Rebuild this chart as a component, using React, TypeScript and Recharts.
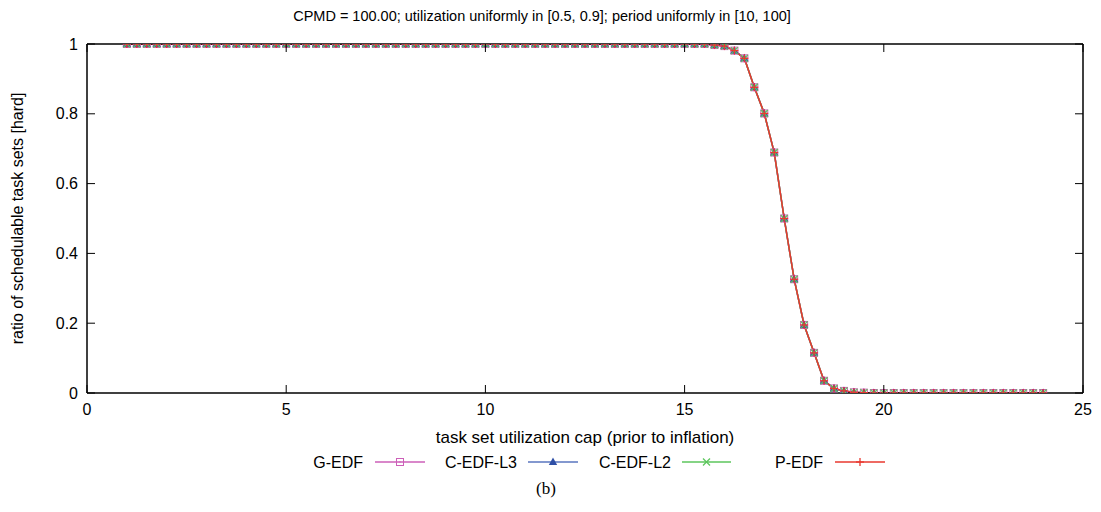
import { LineChart, Line, XAxis, YAxis } from "recharts"

// task set utilization cap, one sample every 0.25
const utilCap = [
  1, 1.25, 1.5, 1.75, 2, 2.25, 2.5, 2.75, 3, 3.25,
  3.5, 3.75, 4, 4.25, 4.5, 4.75, 5, 5.25, 5.5, 5.75,
  6, 6.25, 6.5, 6.75, 7, 7.25, 7.5, 7.75, 8, 8.25,
  8.5, 8.75, 9, 9.25, 9.5, 9.75, 10, 10.25, 10.5, 10.75,
  11, 11.25, 11.5, 11.75, 12, 12.25, 12.5, 12.75, 13, 13.25,
  13.5, 13.75, 14, 14.25, 14.5, 14.75, 15, 15.25, 15.5, 15.75,
  16, 16.25, 16.5, 16.75, 17, 17.25, 17.5, 17.75, 18, 18.25,
  18.5, 18.75, 19, 19.25, 19.5, 19.75, 20, 20.25, 20.5, 20.75,
  21, 21.25, 21.5, 21.75, 22, 22.25, 22.5, 22.75, 23, 23.25,
  23.5, 23.75, 24,
]

const gEdf = [
  1, 1, 1, 1, 1, 1, 1, 1, 1, 1,
  1, 1, 1, 1, 1, 1, 1, 1, 1, 1,
  1, 1, 1, 1, 1, 1, 1, 1, 1, 1,
  1, 1, 1, 1, 1, 1, 1, 1, 1, 1,
  1, 1, 1, 1, 1, 1, 1, 1, 1, 1,
  1, 1, 1, 1, 1, 1, 1, 1, 1, 0.997,
  0.994, 0.981, 0.959, 0.876, 0.801, 0.689, 0.5, 0.326, 0.195, 0.115,
  0.035, 0.013, 0.006, 0.002, 0.001, 0, 0, 0, 0, 0,
  0, 0, 0, 0, 0, 0, 0, 0, 0, 0,
  0, 0, 0,
]

const cEdfL3 = [
  1, 1, 1, 1, 1, 1, 1, 1, 1, 1,
  1, 1, 1, 1, 1, 1, 1, 1, 1, 1,
  1, 1, 1, 1, 1, 1, 1, 1, 1, 1,
  1, 1, 1, 1, 1, 1, 1, 1, 1, 1,
  1, 1, 1, 1, 1, 1, 1, 1, 1, 1,
  1, 1, 1, 1, 1, 1, 1, 1, 1, 0.997,
  0.994, 0.981, 0.959, 0.876, 0.801, 0.689, 0.5, 0.326, 0.195, 0.115,
  0.035, 0.013, 0.006, 0.002, 0.001, 0, 0, 0, 0, 0,
  0, 0, 0, 0, 0, 0, 0, 0, 0, 0,
  0, 0, 0,
]

const cEdfL2 = [
  1, 1, 1, 1, 1, 1, 1, 1, 1, 1,
  1, 1, 1, 1, 1, 1, 1, 1, 1, 1,
  1, 1, 1, 1, 1, 1, 1, 1, 1, 1,
  1, 1, 1, 1, 1, 1, 1, 1, 1, 1,
  1, 1, 1, 1, 1, 1, 1, 1, 1, 1,
  1, 1, 1, 1, 1, 1, 1, 1, 1, 0.997,
  0.994, 0.981, 0.959, 0.876, 0.801, 0.689, 0.5, 0.326, 0.195, 0.115,
  0.035, 0.013, 0.006, 0.002, 0.001, 0, 0, 0, 0, 0,
  0, 0, 0, 0, 0, 0, 0, 0, 0, 0,
  0, 0, 0,
]

const pEdf = [
  1, 1, 1, 1, 1, 1, 1, 1, 1, 1,
  1, 1, 1, 1, 1, 1, 1, 1, 1, 1,
  1, 1, 1, 1, 1, 1, 1, 1, 1, 1,
  1, 1, 1, 1, 1, 1, 1, 1, 1, 1,
  1, 1, 1, 1, 1, 1, 1, 1, 1, 1,
  1, 1, 1, 1, 1, 1, 1, 1, 1, 0.997,
  0.994, 0.981, 0.959, 0.876, 0.801, 0.689, 0.5, 0.326, 0.195, 0.115,
  0.035, 0.013, 0.006, 0.002, 0.001, 0, 0, 0, 0, 0,
  0, 0, 0, 0, 0, 0, 0, 0, 0, 0,
  0, 0, 0,
]

const xTicks = [0, 5, 10, 15, 20, 25]
const yTicks = [0, 0.2, 0.4, 0.6, 0.8, 1]

const title = "CPMD = 100.00; utilization uniformly in [0.5, 0.9]; period uniformly in [10, 100]"
const xLabel = "task set utilization cap (prior to inflation)"
const yLabel = "ratio of schedulable task sets [hard]"
const seriesNames = ["G-EDF", "C-EDF-L3", "C-EDF-L2", "P-EDF"]

const data = utilCap.map((x, i) => ({
  x,
  g: gEdf[i],
  c3: cEdfL3[i],
  c2: cEdfL2[i],
  p: pEdf[i],
}))

const PINK = "#cc5fb8"
const BLUE = "#2f4fa6"
const GREEN = "#5cc65c"
const RED = "#e8392f"
const FONT = '"Liberation Sans", Arial, Helvetica, sans-serif'

// gnuplot style markers
const square = (cx: number, cy: number, key?: any) => (
  <g key={key}>
    <rect x={cx - 3.5} y={cy - 3.5} width={7} height={7} fill="none" stroke={PINK} strokeWidth={1} />
    <rect x={cx - 0.6} y={cy - 0.6} width={1.2} height={1.2} fill={PINK} />
  </g>
)
const triangle = (cx: number, cy: number, key?: any) => (
  <polygon key={key} points={`${cx},${cy - 4.5} ${cx - 4.2},${cy + 3} ${cx + 4.2},${cy + 3}`} fill={BLUE} />
)
const cross = (cx: number, cy: number, key?: any) => (
  <g key={key} stroke={GREEN} strokeWidth={1.2}>
    <line x1={cx - 3.5} y1={cy - 3.5} x2={cx + 3.5} y2={cy + 3.5} />
    <line x1={cx - 3.5} y1={cy + 3.5} x2={cx + 3.5} y2={cy - 3.5} />
  </g>
)
const plus = (cx: number, cy: number, key?: any) => (
  <g key={key} stroke={RED} strokeWidth={1.3}>
    <line x1={cx - 4} y1={cy} x2={cx + 4} y2={cy} />
    <line x1={cx} y1={cy - 4} x2={cx} y2={cy + 4} />
  </g>
)

const markers = [square, triangle, cross, plus]
const colors = [PINK, "#5a76bf", GREEN, RED]

// ticks point inwards (gnuplot), labels outside
const BottomTick = (props: any) => {
  const { x, y, payload } = props
  return (
    <g>
      <line x1={x} x2={x} y1={y} y2={y - 8} stroke="#000" strokeWidth={1} />
      <text x={x} y={y + 22} textAnchor="middle" fontSize={16} fontFamily={FONT} fill="#000">
        {payload.value}
      </text>
    </g>
  )
}
const TopTick = (props: any) => {
  const { x, y } = props
  return <line x1={x} x2={x} y1={y} y2={y + 8} stroke="#000" strokeWidth={1} />
}
const LeftTick = (props: any) => {
  const { x, y, payload } = props
  return (
    <g>
      <line x1={x} x2={x + 8} y1={y} y2={y} stroke="#000" strokeWidth={1} />
      <text x={x - 9} y={y + 5.5} textAnchor="end" fontSize={16} fontFamily={FONT} fill="#000">
        {String(payload.value)}
      </text>
    </g>
  )
}
const RightTick = (props: any) => {
  const { x, y } = props
  return <line x1={x} x2={x - 8} y1={y} y2={y} stroke="#000" strokeWidth={1} />
}

const frame = { stroke: "#000", strokeWidth: 1.5 }

// legend columns: text right edge, sample line from/to
const legendCols = [
  { textEnd: 363, x1: 375, x2: 425 },
  { textEnd: 517, x1: 528, x2: 578 },
  { textEnd: 671, x1: 682, x2: 731 },
  { textEnd: 823, x1: 835, x2: 885 },
]

// plot box: x 87..1083, y 44..393
export default function App() {
  return (
    <div style={{ position: "absolute", left: 0, top: 0, width: 1101, height: 512, background: "#fff" }}>
      <LineChart width={1101} height={512} data={data} margin={{ top: 34, right: 8, bottom: 89, left: 47 }}>
        <XAxis
          dataKey="x"
          type="number"
          domain={[0, 25]}
          ticks={xTicks}
          allowDataOverflow
          height={30}
          tickSize={0}
          tickMargin={0}
          tickLine={false}
          axisLine={frame}
          tick={BottomTick}
          interval={0}
        />
        <XAxis
          xAxisId="top"
          orientation="top"
          dataKey="x"
          type="number"
          domain={[0, 25]}
          ticks={xTicks}
          allowDataOverflow
          height={10}
          tickSize={0}
          tickMargin={0}
          tickLine={false}
          axisLine={frame}
          tick={TopTick}
          interval={0}
        />
        <YAxis
          type="number"
          domain={[0, 1]}
          ticks={yTicks}
          allowDataOverflow
          width={40}
          tickSize={0}
          tickMargin={0}
          tickLine={false}
          axisLine={frame}
          tick={LeftTick}
          interval={0}
        />
        <YAxis
          yAxisId="right"
          orientation="right"
          type="number"
          domain={[0, 1]}
          ticks={yTicks}
          allowDataOverflow
          width={10}
          tickSize={0}
          tickMargin={0}
          tickLine={false}
          axisLine={frame}
          tick={RightTick}
          interval={0}
        />
        {["g", "c3", "c2", "p"].map((key, i) => (
          <Line
            key={key}
            dataKey={key}
            name={seriesNames[i]}
            type="linear"
            stroke={colors[i]}
            strokeWidth={1.5}
            isAnimationActive={false}
            activeDot={false}
            dot={(p: any) => markers[i](p.cx, p.cy, `${key}-${p.index}`)}
          />
        ))}
      </LineChart>

      <svg
        width={1101}
        height={512}
        style={{ position: "absolute", left: 0, top: 0, pointerEvents: "none" }}
        fontFamily={FONT}
      >
        <text x={542} y={21} textAnchor="middle" fontSize={14.5} fill="#000">
          {title}
        </text>
        <text x={585} y={443} textAnchor="middle" fontSize={17} fill="#000">
          {xLabel}
        </text>
        <text
          transform="translate(17, 218.5) rotate(-90)"
          textAnchor="middle"
          dominantBaseline="central"
          fontSize={16}
          fill="#000"
        >
          {yLabel}
        </text>
        {legendCols.map((c, i) => (
          <g key={seriesNames[i]}>
            <text x={c.textEnd} y={467.5} textAnchor="end" fontSize={16} fill="#000">
              {seriesNames[i]}
            </text>
            <line x1={c.x1} x2={c.x2} y1={462} y2={462} stroke={colors[i]} strokeWidth={1.5} />
            {markers[i]((c.x1 + c.x2) / 2, 462)}
          </g>
        ))}
        <text x={546} y={494} textAnchor="middle" fontSize={17} fontFamily='"Liberation Serif", "Times New Roman", serif' fill="#000">
          (b)
        </text>
      </svg>
    </div>
  )
}
